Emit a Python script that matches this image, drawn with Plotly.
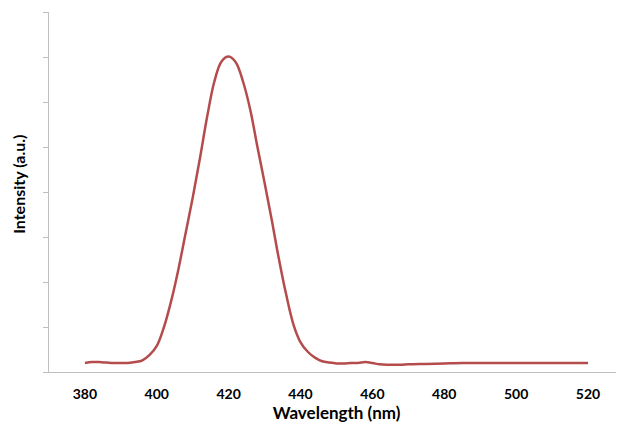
import plotly.graph_objects as go

# emission spectrum
wavelength = [380, 382, 384, 386, 388, 390, 392, 394, 396, 398,
              400, 402, 404, 406, 408, 410, 412, 414, 416, 418,
              420, 422, 424, 426, 428, 430, 432, 434, 436, 438,
              440, 442, 444, 446, 448, 450, 452, 454, 456, 458,
              460, 462, 464, 466, 468, 470, 475, 480, 485, 490,
              500, 510, 520]
intensity = [0.20, 0.22, 0.22, 0.21, 0.20, 0.20, 0.20, 0.22, 0.26, 0.38,
             0.58, 1.00, 1.58, 2.28, 3.08, 3.88, 4.75, 5.67, 6.45, 6.90,
             7.01, 6.88, 6.45, 5.83, 5.00, 4.20, 3.37, 2.50, 1.72, 1.06,
             0.66, 0.45, 0.32, 0.24, 0.21, 0.19, 0.19, 0.20, 0.20, 0.22,
             0.20, 0.17, 0.16, 0.16, 0.16, 0.17, 0.18, 0.19, 0.20, 0.20,
             0.20, 0.20, 0.20]
x_ticks = [380, 400, 420, 440, 460, 480, 500, 520]

fig = go.Figure()
fig.add_trace(go.Scatter(x=wavelength, y=intensity, mode="lines",
                         line=dict(color="#B44C4C", width=2.5, shape="spline"),
                         showlegend=False))

# page body has an 8px margin, so the figure is a bit smaller than the window
fig.update_layout(
    width=616, height=418,
    margin=dict(l=41, r=0, t=4, b=54, autoexpand=False),
    paper_bgcolor="white", plot_bgcolor="white",
    font=dict(family="Lato", color="black", size=14),
    xaxis=dict(range=[370, 530], tickvals=x_ticks, showgrid=False,
               zeroline=False, showline=True, linecolor="#BFBFBF", linewidth=1,
               ticks="", tickfont=dict(size=14, family="Lato", weight="bold"),
               ticklabelstandoff=9, automargin=False,
               title=dict(text="<b>Wavelength (nm)</b>", standoff=6,
                          font=dict(size=17))),
    yaxis=dict(range=[0, 8], dtick=1, showgrid=False, zeroline=False,
               showline=True, linecolor="#BFBFBF", linewidth=1,
               ticks="outside", ticklen=5, tickcolor="#BFBFBF",
               showticklabels=False, automargin=False),
)

# y title as annotation so it can sit slightly above centre, like the original
fig.add_annotation(text="<b>Intensity (a.u.)</b>", textangle=-90,
                   xref="paper", yref="paper", x=-30 / 575, y=0.52,
                   xanchor="center", yanchor="middle", showarrow=False,
                   font=dict(size=16, family="Lato", color="black"))

fig.write_html("out.html")
